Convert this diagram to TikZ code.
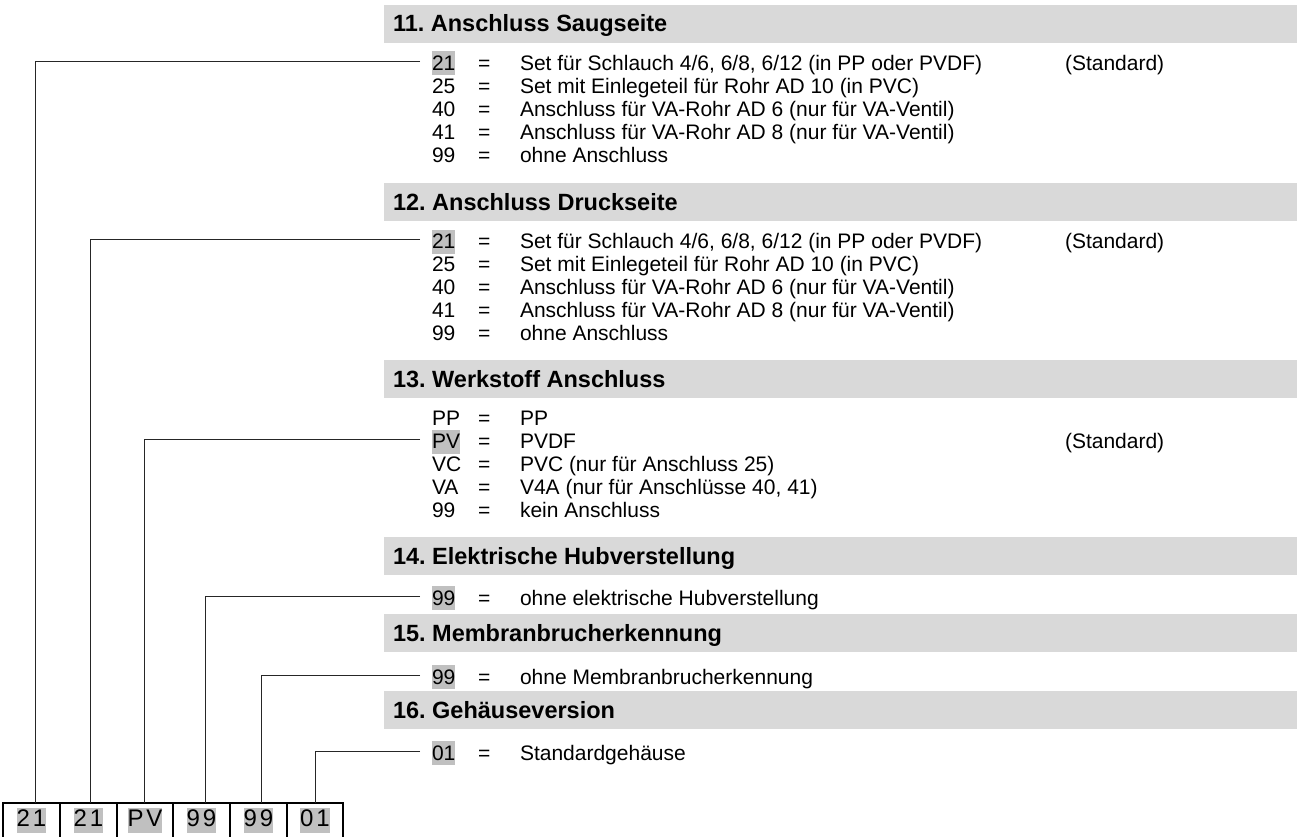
\documentclass[tikz,border=0pt]{standalone}
\usepackage{fontspec}
\setmainfont{Liberation Sans}
\newfontfamily\cellfont[LetterSpace=12]{Liberation Sans}
\definecolor{headbg}{HTML}{D9D9D9}
\definecolor{hl}{HTML}{C0C0C0}
\newcommand\bodyfont{\fontsize{21}{25}\selectfont}
% option line: name, baseline y, code style, code, description
\newcommand\optline[5]{%
  \node[#3] (#1) at (432,#2) {#4};
  \node[eqsign] (#1e) at (478,#2) {=};
  \node[desc] (#1d) at (520,#2) {#5};}
\newcommand\headline[3]{%
  \fill[headbg] (384,#2) rectangle (1297,#2+38);
  \node[headtext] (#1) at (393,#2+27) {#3};}
\begin{document}
\begin{tikzpicture}[x=1pt,y=-1pt,
  every node/.style={inner sep=0pt,outer sep=0pt},
  headtext/.style={anchor=base west,font=\fontsize{23.5}{27}\selectfont\bfseries},
  code/.style={anchor=base west,fill=hl,text height=19pt,text depth=5pt,font=\bodyfont},
  plain/.style={anchor=base west,font=\bodyfont},
  eqsign/.style={anchor=base west,font=\bodyfont},
  desc/.style={anchor=base west,font=\bodyfont},
  conn/.style={draw=black!85,line width=1pt},
  cellline/.style={line width=2pt},
  cellcode/.style={fill=hl,text height=19pt,text depth=6pt,font=\cellfont\fontsize{24}{28}\selectfont}]
\useasboundingbox (0,0) rectangle (1297,837);

% 11
\headline{h11}{5}{11.\ Anschluss Saugseite}
\optline{a1}{70.5}{code}{21}{Set für Schlauch 4/6, 6/8, 6/12 (in PP oder PVDF)}
\optline{a2}{93.5}{plain}{25}{Set mit Einlegeteil für Rohr AD 10 (in PVC)}
\optline{a3}{116.5}{plain}{40}{Anschluss für VA-Rohr AD 6 (nur für VA-Ventil)}
\optline{a4}{139.5}{plain}{41}{Anschluss für VA-Rohr AD 8 (nur für VA-Ventil)}
\optline{a5}{162.5}{plain}{99}{ohne Anschluss}
\node[desc] (s11) at (1065,70.5) {(Standard)};

% 12
\headline{h12}{183}{12.\ Anschluss Druckseite}
\optline{b1}{248.5}{code}{21}{Set für Schlauch 4/6, 6/8, 6/12 (in PP oder PVDF)}
\optline{b2}{271.5}{plain}{25}{Set mit Einlegeteil für Rohr AD 10 (in PVC)}
\optline{b3}{294.5}{plain}{40}{Anschluss für VA-Rohr AD 6 (nur für VA-Ventil)}
\optline{b4}{317.5}{plain}{41}{Anschluss für VA-Rohr AD 8 (nur für VA-Ventil)}
\optline{b5}{340.5}{plain}{99}{ohne Anschluss}
\node[desc] (s12) at (1065,248.5) {(Standard)};

% 13
\headline{h13}{360}{13.\ Werkstoff Anschluss}
\optline{m1}{425.5}{plain}{PP}{PP}
\optline{m2}{448.5}{code}{PV}{PVDF}
\optline{m3}{471.5}{plain}{VC}{PVC (nur für Anschluss 25)}
\optline{m4}{494.5}{plain}{VA}{V4A (nur für Anschlüsse 40, 41)}
\optline{m5}{517.5}{plain}{99}{kein Anschluss}
\node[desc] (s13) at (1065,448.5) {(Standard)};

% 14
\headline{h14}{537}{14.\ Elektrische Hubverstellung}
\optline{e1}{605}{code}{99}{ohne elektrische Hubverstellung}

% 15
\headline{h15}{614}{15.\ Membranbrucherkennung}
\optline{f1}{684}{code}{99}{ohne Membranbrucherkennung}

% 16
\headline{h16}{691}{16.\ Gehäuseversion}
\optline{g1}{760}{code}{01}{Standardgehäuse}

% code cells at the bottom
\draw[cellline] (3,803) rectangle (343,845);
\foreach \x in {60,117,173,230,287} \draw[cellline] (\x,803) -- (\x,845);
\node[cellcode] (k1) at (31.5,820) {21};
\node[cellcode] (k2) at (88.5,820) {21};
\node[cellcode] (k3) at (145,820) {PV};
\node[cellcode] (k4) at (201.5,820) {99};
\node[cellcode] (k5) at (258.5,820) {99};
\node[cellcode] (k6) at (315,820) {01};
\coordinate (t1) at (35,803);
\coordinate (t2) at (90,803);
\coordinate (t3) at (144,803);
\coordinate (t4) at (205,803);
\coordinate (t5) at (261,803);
\coordinate (t6) at (315,803);

% leader lines from the selected codes down to the cells
\draw[conn] ([shift={(-12pt,2pt)}]a1.west) -| (t1);
\draw[conn] ([shift={(-12pt,2pt)}]b1.west) -| (t2);
\draw[conn] ([shift={(-12pt,2pt)}]m2.west) -| (t3);
\draw[conn] ([shift={(-12pt,2pt)}]e1.west) -| (t4);
\draw[conn] ([shift={(-12pt,2pt)}]f1.west) -| (t5);
\draw[conn] ([shift={(-12pt,2pt)}]g1.west) -| (t6);
\end{tikzpicture}
\end{document}
